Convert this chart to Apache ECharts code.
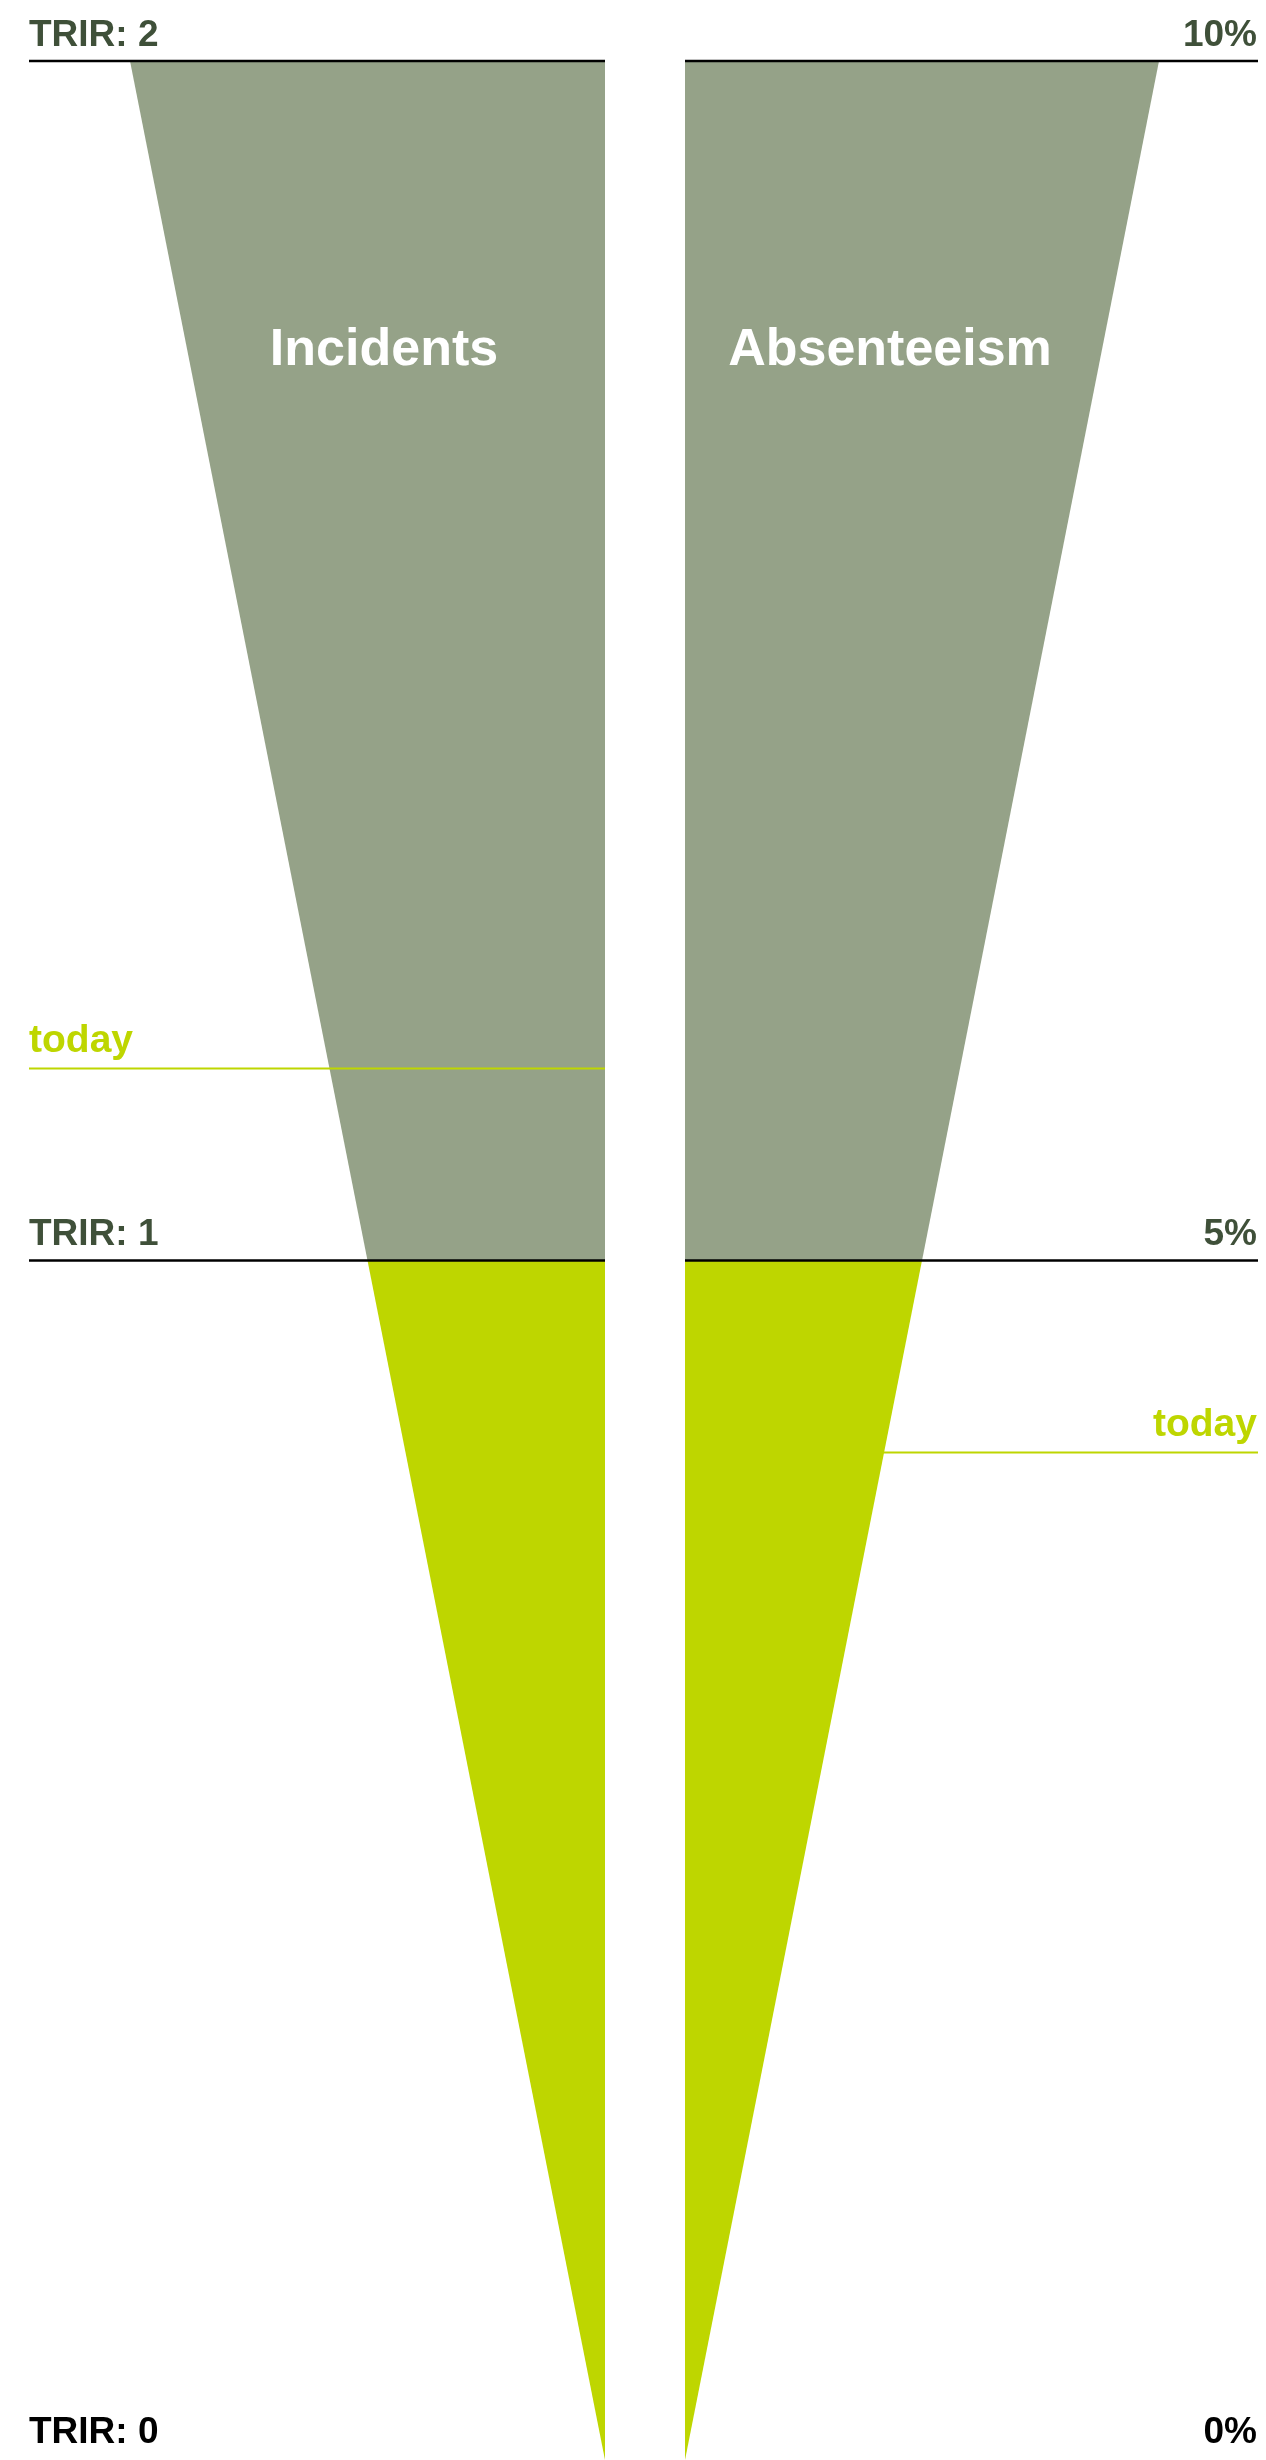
<!DOCTYPE html>
<html>
<head>
<meta charset="utf-8">
<title>Incidents and Absenteeism</title>
<script src="https://cdn.jsdelivr.net/npm/echarts@6/dist/echarts.min.js"></script>
<style>
  html, body { margin: 0; padding: 0; background: #ffffff; }
  #chart { width: 1266px; height: 2460px; }
</style>
</head>
<body>
<div id="chart"></div>
<script>
// Incidents (TRIR) funnel
const incidentTicks = [0, 1, 2];
const incidentTickLabels = ['TRIR: 0', 'TRIR: 1', 'TRIR: 2'];
const incidentMax = 2;
const incidentTarget = 1;
const incidentToday = 1.16;

// Absenteeism (%) funnel
const absenteeismTicks = [0, 5, 10];
const absenteeismTickLabels = ['0%', '5%', '10%'];
const absenteeismMax = 10;
const absenteeismTarget = 5;
const absenteeismToday = 4.2;

const panelTitles = ['Incidents', 'Absenteeism'];
const todayLabel = 'today';

const GREY = '#95a288';
const LIME = '#bed600';
const DARK = '#3f5039';
const FONT = '"Liberation Sans", Arial, Helvetica, sans-serif';

// Funnel panel: width at a level equals the level value, so the apex sits at 0
function funnelRenderer(cfg) {
  return function (params, api) {
    const apex = api.coord([0, 0]);
    const topOuter = api.coord([cfg.max, cfg.max]);
    const topInner = api.coord([0, cfg.max]);
    const tgtOuter = api.coord([cfg.target, cfg.target]);
    const tgtInner = api.coord([0, cfg.target]);
    const todayY = api.coord([0, cfg.today])[1];

    const children = [
      { type: 'polygon', shape: { points: [topOuter, topInner, tgtInner, tgtOuter] },
        style: { fill: GREY } },
      { type: 'polygon', shape: { points: [tgtOuter, tgtInner, apex] },
        style: { fill: LIME } },
      { type: 'line', shape: { x1: cfg.lineFrom, y1: todayY, x2: cfg.lineTo, y2: todayY },
        style: { stroke: LIME, lineWidth: 2 } },
      { type: 'text', style: {
          text: todayLabel, x: cfg.labelX, y: todayY - 8,
          align: cfg.labelAlign, verticalAlign: 'bottom',
          font: 'bold 39px ' + FONT, fill: LIME } }
    ];

    cfg.ticks.forEach(function (t, i) {
      const y = api.coord([0, t])[1];
      if (t > 0) {
        children.push({ type: 'line',
          shape: { x1: cfg.lineFrom, y1: y, x2: cfg.lineTo, y2: y },
          style: { stroke: '#000000', lineWidth: 2.5 } });
      }
      children.push({ type: 'text', style: {
        text: cfg.tickLabels[i], x: cfg.labelX, y: (t > 0 ? y : y - 2) - 7,
        align: cfg.labelAlign, verticalAlign: 'bottom',
        font: 'bold 37px ' + FONT, fill: t > 0 ? DARK : '#000000' } });
    });

    // panel title inside the upper part of the funnel
    children.push({ type: 'text', style: {
      text: cfg.title, x: cfg.titleX, y: topInner[1] + 316,
      align: 'center', verticalAlign: 'bottom',
      font: 'bold 52px ' + FONT, fill: '#ffffff' } });

    return { type: 'group', children: children };
  };
}

const chart = echarts.init(document.getElementById('chart'), null, { renderer: 'canvas' });

chart.setOption({
  backgroundColor: '#ffffff',
  animation: false,
  grid: [
    { left: 130, top: 61, width: 475, height: 2399 },
    { left: 685, top: 61, width: 474, height: 2399 }
  ],
  xAxis: [
    { gridIndex: 0, type: 'value', min: 0, max: incidentMax, inverse: true, show: false },
    { gridIndex: 1, type: 'value', min: 0, max: absenteeismMax, show: false }
  ],
  yAxis: [
    { gridIndex: 0, type: 'value', min: 0, max: incidentMax, show: false },
    { gridIndex: 1, type: 'value', min: 0, max: absenteeismMax, show: false }
  ],
  series: [
    {
      type: 'custom', xAxisIndex: 0, yAxisIndex: 0, clip: false, silent: true,
      renderItem: funnelRenderer({
        max: incidentMax, target: incidentTarget, today: incidentToday,
        ticks: incidentTicks, tickLabels: incidentTickLabels,
        title: panelTitles[0], titleX: 384,
        lineFrom: 29, lineTo: 605, labelX: 29, labelAlign: 'left'
      }),
      data: [[0, 0]]
    },
    {
      type: 'custom', xAxisIndex: 1, yAxisIndex: 1, clip: false, silent: true,
      renderItem: funnelRenderer({
        max: absenteeismMax, target: absenteeismTarget, today: absenteeismToday,
        ticks: absenteeismTicks, tickLabels: absenteeismTickLabels,
        title: panelTitles[1], titleX: 890,
        lineFrom: 685, lineTo: 1258, labelX: 1257, labelAlign: 'right'
      }),
      data: [[0, 0]]
    }
  ]
});
</script>
</body>
</html>
